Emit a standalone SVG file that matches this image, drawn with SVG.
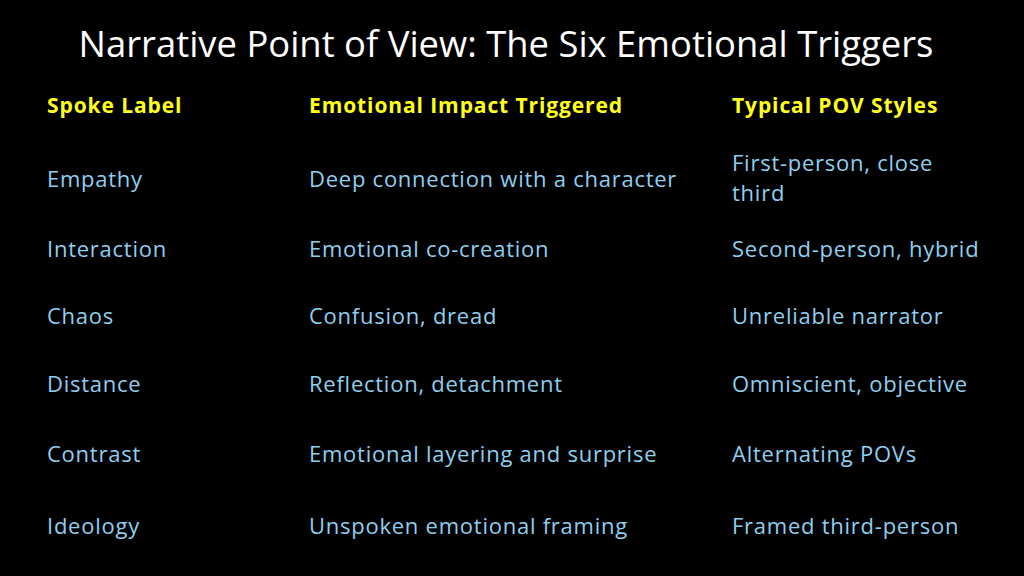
<svg xmlns="http://www.w3.org/2000/svg" width="1024" height="576" viewBox="0 0 1024 576">
<style>
text{font-family:"Open Sans","Liberation Sans",sans-serif}
.t{fill:#fff;font-size:36.4px}
.h{fill:#ffff1a;font-size:21px;font-weight:bold;letter-spacing:0.9px}
.b{fill:#8ecfef;font-size:22px;letter-spacing:0.75px}
</style>
<rect width="1024" height="576" fill="#000"/>
<text class="t" x="506" y="57" text-anchor="middle">Narrative Point of View: The Six Emotional Triggers</text>
<text class="h" x="47" y="113">Spoke Label</text>
<text class="h" x="309" y="113">Emotional Impact Triggered</text>
<text class="h" x="732" y="113">Typical POV Styles</text>
<g class="b">
<text class="b" x="47" y="187">Empathy</text>
<text class="b" x="309" y="187">Deep connection with a character</text>
<text class="b" x="732" y="171">First-person, close</text>
<text class="b" x="732" y="201">third</text>
<text class="b" x="47" y="257">Interaction</text>
<text class="b" x="309" y="257">Emotional co-creation</text>
<text class="b" x="732" y="257">Second-person, hybrid</text>
<text class="b" x="47" y="324">Chaos</text>
<text class="b" x="309" y="324">Confusion, dread</text>
<text class="b" x="732" y="324">Unreliable narrator</text>
<text class="b" x="47" y="392">Distance</text>
<text class="b" x="309" y="392">Reflection, detachment</text>
<text class="b" x="732" y="392">Omniscient, objective</text>
<text class="b" x="47" y="462">Contrast</text>
<text class="b" x="309" y="462">Emotional layering and surprise</text>
<text class="b" x="732" y="462">Alternating POVs</text>
<text class="b" x="47" y="534">Ideology</text>
<text class="b" x="309" y="534">Unspoken emotional framing</text>
<text class="b" x="732" y="534">Framed third-person</text>
</g>
</svg>
